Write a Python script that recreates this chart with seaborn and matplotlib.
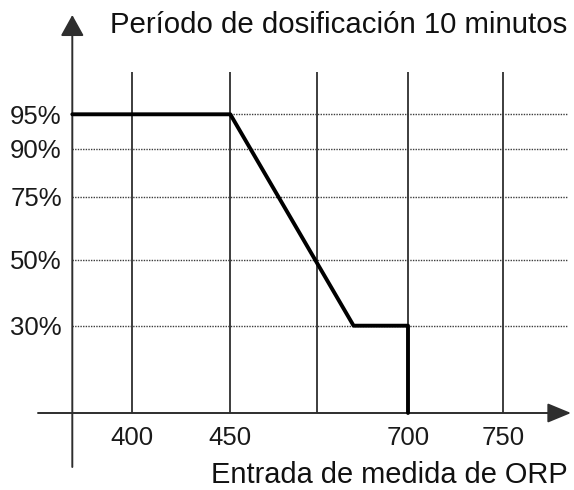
import numpy as np
import matplotlib
matplotlib.use("Agg")
import matplotlib.pyplot as plt
import seaborn as sns
import pandas as pd

# ---------------- data ----------------
orp_tick_values = [400, 450, 700, 750]
orp_tick_labels = ["400", "450", "700", "750"]
orp_grid_values = [400, 450, 575, 700, 750]
pct_levels = [95, 90, 75, 50, 30]
pct_labels = ["95%", "90%", "75%", "50%", "30%"]
curve_orp = [375, 450, 625, 700, 700]
curve_pct = [95, 95, 30, 30, 0]
title_text = "Período de dosificación 10 minutos"
xlabel_text = "Entrada de medida de ORP"

# ------------- schematic (non-uniform) scale knots: value -> pixel -------------
W, H = 574, 490
X_KNOT_VAL = [375, 400, 450, 575, 700, 750]
X_KNOT_PIX = [72.3, 131.7, 230.3, 317.3, 408.0, 503.3]
Y_KNOT_VAL = [0, 30, 50, 75, 90, 95]
Y_KNOT_PIX = [H - 413.0, H - 325.7, H - 260.0, H - 197.0, H - 149.0, H - 114.3]


def piecewise(xs, ys):
    xs = np.asarray(xs, float)
    ys = np.asarray(ys, float)
    s0 = (ys[1] - ys[0]) / (xs[1] - xs[0])
    s1 = (ys[-1] - ys[-2]) / (xs[-1] - xs[-2])

    def f(v):
        v = np.asarray(v, float)
        out = np.interp(v, xs, ys)
        out = np.where(v < xs[0], ys[0] + (v - xs[0]) * s0, out)
        out = np.where(v > xs[-1], ys[-1] + (v - xs[-1]) * s1, out)
        return out
    return f


fx, fx_inv = piecewise(X_KNOT_VAL, X_KNOT_PIX), piecewise(X_KNOT_PIX, X_KNOT_VAL)
fy, fy_inv = piecewise(Y_KNOT_VAL, Y_KNOT_PIX), piecewise(Y_KNOT_PIX, Y_KNOT_VAL)

sns.set_style("white")
plt.rcParams["font.family"] = ["Liberation Sans", "DejaVu Sans"]

fig = plt.figure(figsize=(W / 100, H / 100), dpi=100)
ax = fig.add_axes([0, 0, 1, 1])
ax.set_xscale("function", functions=(fx, fx_inv))
ax.set_yscale("function", functions=(fy, fy_inv))
ax.set_xlim(float(fx_inv(0)), float(fx_inv(W)))
ax.set_ylim(float(fy_inv(0)), float(fy_inv(H)))
ax.axis("off")

line_col = "#2e2e2e"
x0 = X_KNOT_VAL[0]
grid_top = float(fy_inv(H - 72))

# vertical solid grid lines
ax.vlines(orp_grid_values, 0, grid_top, color=line_col, lw=1.3, zorder=1)
# horizontal dotted level lines
ax.hlines(pct_levels, x0, float(fx_inv(567)), color="#3c3c3c", lw=1.0,
          linestyles=(0, (1, 0.9)), zorder=1)

# axes with arrows
ax.annotate("", xy=(float(fx_inv(571)), 0), xytext=(float(fx_inv(38)), 0),
            arrowprops=dict(arrowstyle="-|>,head_length=1.45,head_width=0.6",
                            color=line_col, lw=1.4, shrinkA=0, shrinkB=0,
                            mutation_scale=10), zorder=3)
ax.annotate("", xy=(x0, float(fy_inv(H - 15))), xytext=(x0, float(fy_inv(H - 467))),
            arrowprops=dict(arrowstyle="-|>,head_length=1.3,head_width=0.72",
                            color=line_col, lw=1.4, shrinkA=0, shrinkB=0,
                            mutation_scale=10), zorder=3)

# the curve
df = pd.DataFrame({"orp": curve_orp, "pct": curve_pct})
sns.lineplot(data=df, x="orp", y="pct", sort=False, estimator=None,
             color="black", lw=2.8, ax=ax, zorder=4)
ax.axis("off")

# y labels
for lvl, lab in zip(pct_levels, pct_labels):
    ax.annotate(lab, xy=(x0, lvl), xytext=(-10.5, -9.2), textcoords="offset pixels",
                ha="right", va="baseline", fontsize=18.5, color="#1a1a1a")
# x labels
for v, lab in zip(orp_tick_values, orp_tick_labels):
    ax.annotate(lab, xy=(v, 0), xytext=(0, -32), textcoords="offset pixels",
                ha="center", va="baseline", fontsize=18.5, color="#1a1a1a")

fig.text(110 / W, 1 - 33.3 / H, title_text, ha="left", va="baseline",
         fontsize=21.2, color="#111111")
fig.text(568 / W, 1 - 483.3 / H, xlabel_text, ha="right", va="baseline",
         fontsize=20.9, color="#111111")

fig.savefig("out.png", dpi=100)
